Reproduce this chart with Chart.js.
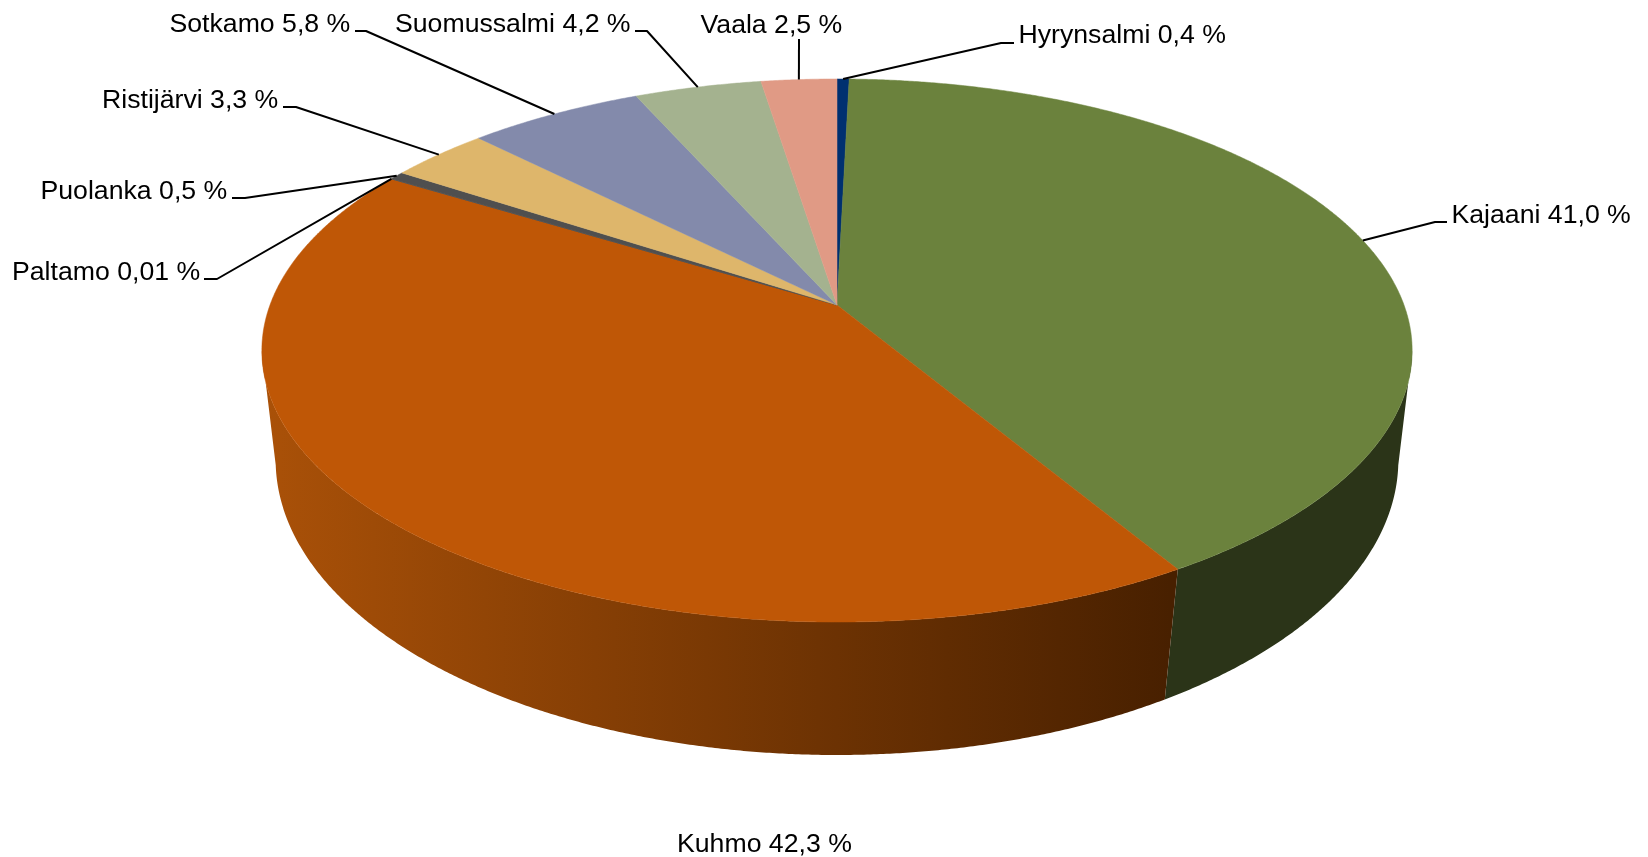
<!DOCTYPE html>
<html>
<head>
<meta charset="utf-8">
<style>
  html, body { margin: 0; padding: 0; background: #fff; }
  canvas { display: block; }
</style>
<script src="https://cdn.jsdelivr.net/npm/chart.js@4/dist/chart.umd.min.js"></script>
</head>
<body>
<canvas id="pie" width="1648" height="857"></canvas>
<script>
const categories = ['Hyrynsalmi', 'Kajaani', 'Kuhmo', 'Paltamo', 'Puolanka', 'Ristijärvi', 'Sotkamo', 'Suomussalmi', 'Vaala'];
const shares = [0.4, 41.0, 42.3, 0.01, 0.5, 3.3, 5.8, 4.2, 2.5];
const shareLabels = ['0,4 %', '41,0 %', '42,3 %', '0,01 %', '0,5 %', '3,3 %', '5,8 %', '4,2 %', '2,5 %'];
const sliceColors = ['#003070', '#6B823D', '#BF5706', '#4F4F4F', '#4F4F4F', '#DEB66B', '#838AAB', '#A4B28F', '#E09A85'];

// where each label sits: text x, baseline y, then the elbow of the leader line
const labelLayout = [
  { x: 1018.5, y: 43, from: [1014, 43], elbow: [1001, 43] },
  { x: 1451.5, y: 223, from: [1447, 222], elbow: [1435, 222] },
  { x: 677, y: 852 },
  { x: 12, y: 280, from: [204, 279], elbow: [217, 279] },
  { x: 40.5, y: 199, from: [232, 198], elbow: [245, 198] },
  { x: 102, y: 108, from: [283, 107], elbow: [296, 107] },
  { x: 169.5, y: 32, from: [355, 31], elbow: [366, 31] },
  { x: 395, y: 32, from: [635, 31], elbow: [647, 31] },
  { x: 700.5, y: 33, from: [799, 39], elbow: [799, 39] }
];

// perspective of the tilted disc
const topFace = { cx: 837, cy: 305, rx: 567, ry: 263.9, persp: 0.1676 };
const bottomFace = { cx: 837, cy: 415.7, rx: 555, ry: 288.4, persp: 0.15 };

function project(face, angle) {
  const w = 1 - face.persp * Math.sin(angle);
  return [face.cx + face.rx * Math.cos(angle) / w, face.cy + face.ry * Math.sin(angle) / w];
}

function traceRim(ctx, face, a0, a1) {
  const steps = Math.max(2, Math.ceil(Math.abs(a1 - a0) / 0.005));
  for (let i = 0; i <= steps; i++) {
    const p = project(face, a0 + (a1 - a0) * i / steps);
    ctx.lineTo(p[0], p[1]);
  }
}

const pie3d = {
  id: 'pie3d',
  beforeDatasetDraw(chart) {
    const ctx = chart.ctx;
    const arcs = chart.getDatasetMeta(0).data;
    const visFrom = Math.asin(topFace.persp);
    const visTo = Math.PI - visFrom;

    ctx.save();
    // side wall, only the part facing the viewer
    const shade = ctx.createLinearGradient(262, 0, 1170, 0);
    shade.addColorStop(0, 'rgb(170,81,8)');
    shade.addColorStop(1, 'rgb(72,32,0)');
    arcs.forEach((arc, i) => {
      const a0 = Math.max(arc.startAngle, visFrom);
      const a1 = Math.min(arc.endAngle, visTo);
      if (a1 <= a0) return;
      ctx.beginPath();
      traceRim(ctx, topFace, a0, a1);
      traceRim(ctx, bottomFace, a1, a0);
      ctx.closePath();
      ctx.fillStyle = categories[i] === 'Kuhmo' ? shade : '#2B3418';
      ctx.fill();
    });

    // top face
    arcs.forEach(arc => {
      ctx.beginPath();
      ctx.moveTo(topFace.cx, topFace.cy);
      traceRim(ctx, topFace, arc.startAngle, arc.endAngle);
      ctx.closePath();
      ctx.fillStyle = arc.options.backgroundColor;
      ctx.strokeStyle = arc.options.backgroundColor;
      ctx.lineWidth = 0.5;
      ctx.fill();
      ctx.stroke();
    });

    // leader lines and labels
    ctx.strokeStyle = '#000';
    ctx.lineWidth = 2;
    ctx.lineJoin = 'round';
    ctx.fillStyle = '#000';
    ctx.font = '26.67px "Liberation Sans", Arial, sans-serif';
    ctx.textBaseline = 'alphabetic';
    arcs.forEach((arc, i) => {
      const l = labelLayout[i];
      if (l.from) {
        const rim = project(topFace, (arc.startAngle + arc.endAngle) / 2);
        ctx.beginPath();
        ctx.moveTo(l.from[0], l.from[1]);
        ctx.lineTo(l.elbow[0], l.elbow[1]);
        ctx.lineTo(rim[0], rim[1]);
        ctx.stroke();
      }
      ctx.fillText(categories[i] + ' ' + shareLabels[i], l.x, l.y);
    });
    ctx.restore();
    return false;
  }
};

new Chart(document.getElementById('pie').getContext('2d'), {
  type: 'pie',
  data: {
    labels: categories,
    datasets: [{ data: shares, backgroundColor: sliceColors, borderWidth: 0 }]
  },
  options: {
    responsive: false,
    animation: false,
    events: [],
    plugins: { legend: { display: false }, tooltip: { enabled: false } }
  },
  plugins: [pie3d]
});
</script>
</body>
</html>
